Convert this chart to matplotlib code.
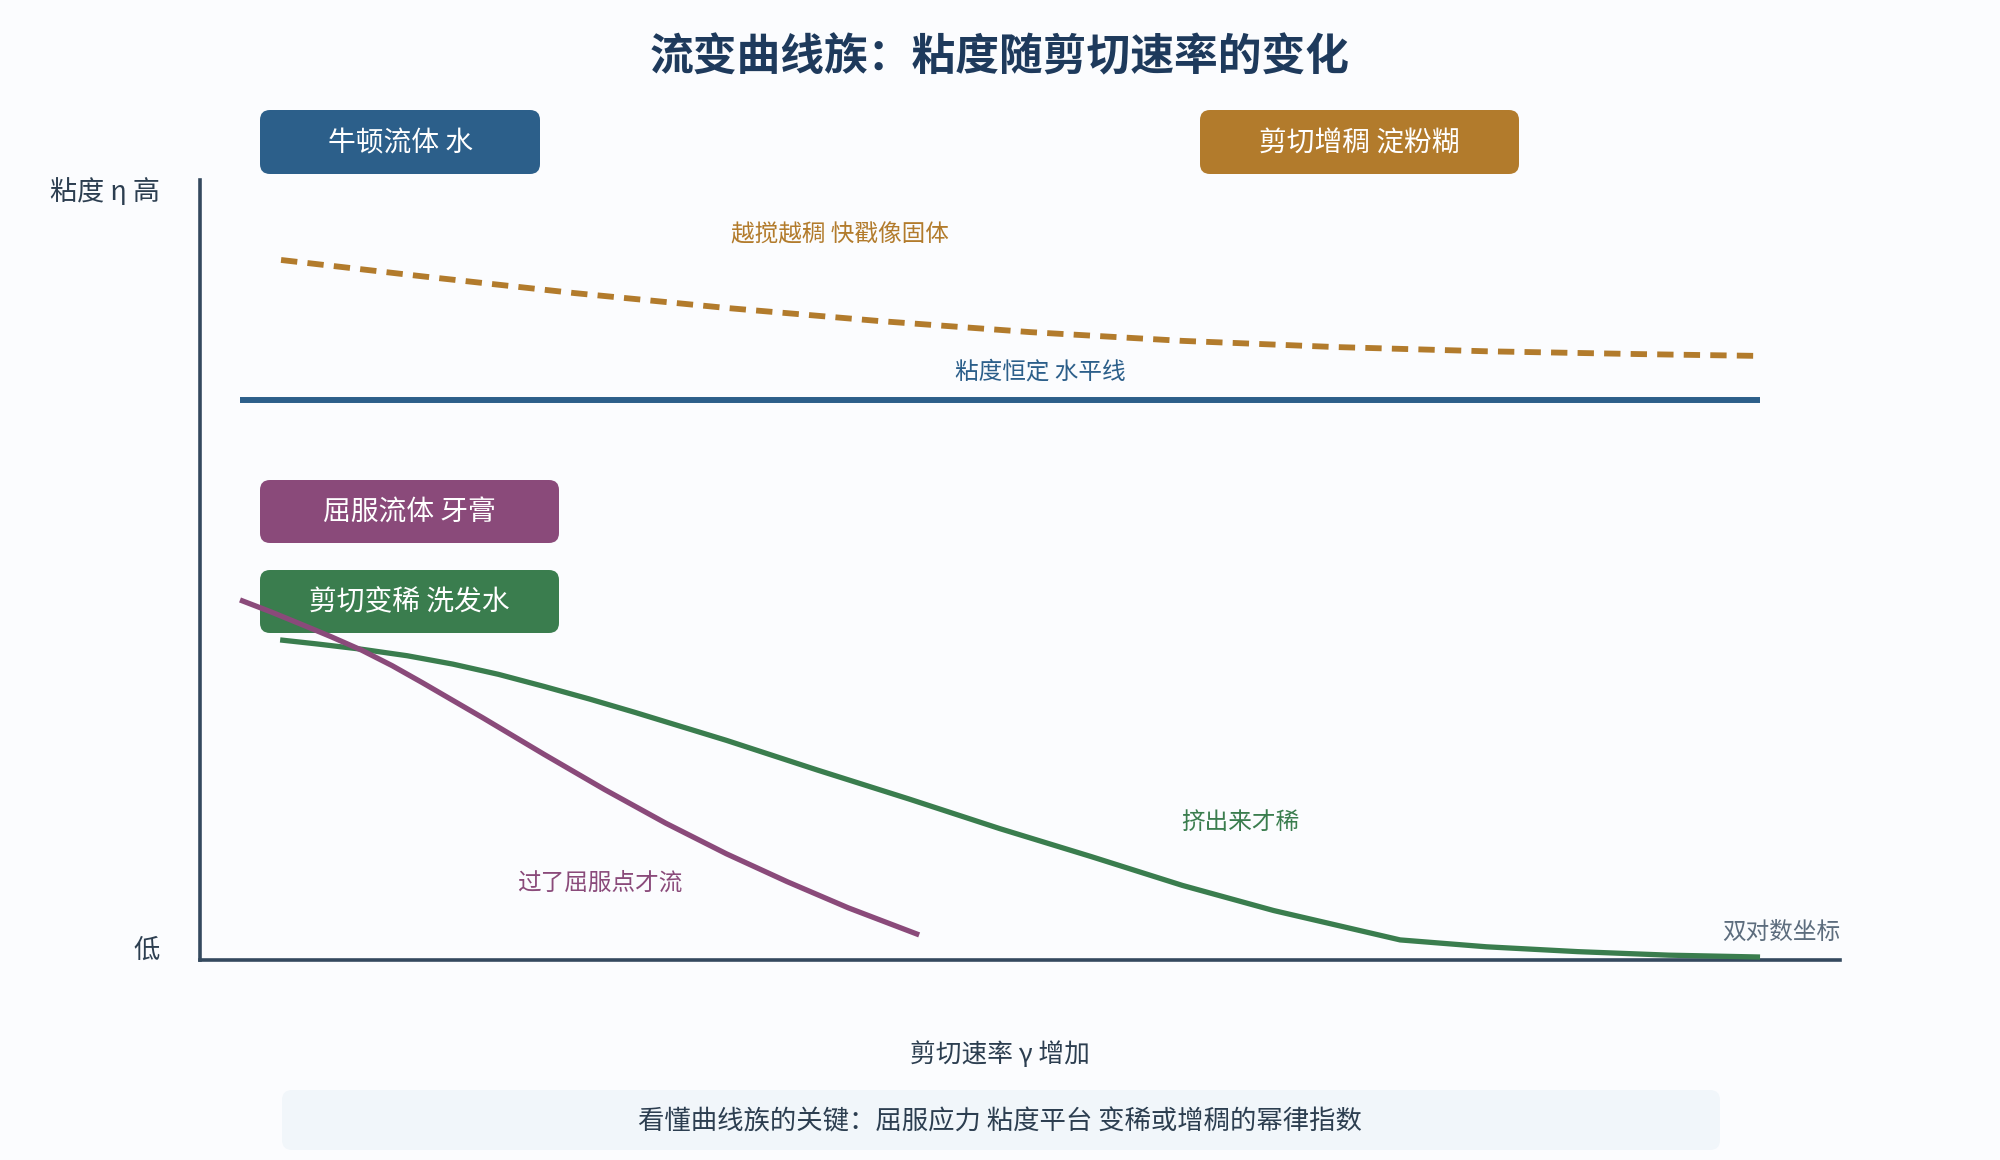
import numpy as np
import matplotlib
matplotlib.use("Agg")
import matplotlib.pyplot as plt
from matplotlib.patches import FancyBboxPatch
from matplotlib.transforms import Affine2D

plt.rcParams['font.family'] = ['Noto Sans CJK SC', 'DejaVu Sans']

# colours
BLUE = '#2c5f8a'
ORANGE = '#b27b2c'
PURPLE = '#8a4a7a'
GREEN = '#3a7d4e'
AXIS = '#34495e'
TEXT = '#2c3e50'
BG = '#fbfcfe'

# data (log10 shear rate, log10 viscosity)
newton_logx = [-2.0, 3.0]
newton_logy = [0.0, 0.0]

thick_logx = [-1.865, -1.4, -0.9, -0.4, 0.1, 0.6, 1.1, 1.6, 2.1, 2.6, 3.0]
thick_logy = [0.753, 0.665, 0.575, 0.495, 0.425, 0.365, 0.318, 0.285, 0.262, 0.247, 0.237]

thin_logx = [-1.868, -1.75, -1.6, -1.45, -1.3, -1.15, -1.0, -0.85, -0.7, -0.4, -0.1,
             0.2, 0.5, 0.8, 1.1, 1.4, 1.816, 2.1, 2.4, 2.7, 3.0]
thin_logy = [-1.290, -1.311, -1.340, -1.375, -1.420, -1.475, -1.540, -1.608, -1.68,
             -1.83, -1.99, -2.145, -2.305, -2.455, -2.61, -2.745, -2.903, -2.94,
             -2.966, -2.985, -2.995]

yield_logx = [-2.0, -1.9, -1.8, -1.7, -1.6, -1.5, -1.4, -1.2, -1.0, -0.8, -0.6,
              -0.4, -0.2, 0.0, 0.234]
yield_logy = [-1.075, -1.138, -1.205, -1.273, -1.345, -1.428, -1.52, -1.71, -1.905,
              -2.095, -2.275, -2.44, -2.59, -2.73, -2.876]

fig = plt.figure(figsize=(20, 11.6), dpi=100)
fig.patch.set_facecolor(BG)

# pixel transform, origin at top-left
px = Affine2D().scale(0.01, -0.01).translate(0, 11.6) + fig.dpi_scale_trans

ax = fig.add_axes([0.1, 1 - 960 / 1160, 0.82, 780 / 1160])
ax.set_facecolor('none')
ax.set_xscale('log')
ax.set_yscale('log')
ax.set_xlim(10 ** -2.1316, 10 ** 3.263)
ax.set_ylim(10 ** -3.011, 10 ** 1.183)
for s in ['top', 'right']:
    ax.spines[s].set_visible(False)
for s in ['left', 'bottom']:
    ax.spines[s].set_color(AXIS)
    ax.spines[s].set_linewidth(2.6)
ax.set_xticks([])
ax.set_yticks([])
ax.minorticks_off()
ax.tick_params(which='both', length=0, labelbottom=False, labelleft=False)

def curve(lx, ly, **kw):
    ax.plot(10 ** np.array(lx), 10 ** np.array(ly), solid_capstyle='butt',
            solid_joinstyle='round', zorder=3, **kw)

curve(thick_logx, thick_logy, color=ORANGE, lw=4.2, linestyle=(0, (2.8, 1.75)))
curve(newton_logx, newton_logy, color=BLUE, lw=4.3)
curve(thin_logx, thin_logy, color=GREEN, lw=3.8)
curve(yield_logx, yield_logy, color=PURPLE, lw=3.8)

# curve annotations
ax.text(10 ** -0.026, 10 ** 0.887, '越搅越稠 快戳像固体', color=ORANGE, fontsize=17, ha='center', va='center')
ax.text(10 ** 0.632, 10 ** 0.15, '粘度恒定 水平线', color=BLUE, fontsize=17, ha='center', va='center')
ax.text(10 ** -0.816, 10 ** -2.597, '过了屈服点才流', color=PURPLE, fontsize=17, ha='center', va='center')
ax.text(10 ** 1.289, 10 ** -2.269, '挤出来才稀', color=GREEN, fontsize=17, ha='center', va='center')
ax.text(1.0, 0.036, '双对数坐标', color='#5d6d7e', fontsize=17, ha='right', va='center', transform=ax.transAxes)

# labelled boxes (pixel layout, top-left origin)
boxes = [
    ('牛顿流体 水', BLUE, 260, 110, 540, 174),
    ('剪切增稠 淀粉糊', ORANGE, 1200, 110, 1519, 174),
    ('屈服流体 牙膏', PURPLE, 260, 480, 559, 543),
    ('剪切变稀 洗发水', GREEN, 260, 570, 559, 633),
]
for label, c, x0, y0, x1, y1 in boxes:
    p = FancyBboxPatch((x0, y0), x1 - x0, y1 - y0, boxstyle='round,pad=0,rounding_size=10',
                       facecolor=c, edgecolor='none', transform=px, zorder=1, clip_on=False)
    ax.add_patch(p)
    ax.text((x0 + x1) / 2, (y0 + y1) / 2 + 1, label, color='white', fontsize=20,
            ha='center', va='center', transform=px, zorder=5, clip_on=False)

# footer box
foot = FancyBboxPatch((282, 1090), 1438, 60, boxstyle='round,pad=0,rounding_size=10',
                      facecolor='#f1f6fa', edgecolor='none', transform=px, zorder=0)
fig.patches.append(foot)

fig.text(1000, 57, '流变曲线族：粘度随剪切速率的变化', transform=px, fontsize=31.5,
         fontweight='bold', color='#1e3a5c', ha='center', va='center')
fig.text(160, 192, '粘度 η 高', transform=px, fontsize=19.5, color=TEXT, ha='right', va='center')
fig.text(160, 950, '低', transform=px, fontsize=19, color=TEXT, ha='right', va='center')
fig.text(1000, 1055, '剪切速率 γ 增加', transform=px, fontsize=18.5, color=TEXT, ha='center', va='center')
fig.text(1000, 1122, '看懂曲线族的关键：屈服应力 粘度平台 变稀或增稠的幂律指数', transform=px,
         fontsize=19, color=TEXT, ha='center', va='center')

fig.savefig('out.png', dpi=100, facecolor=BG)
